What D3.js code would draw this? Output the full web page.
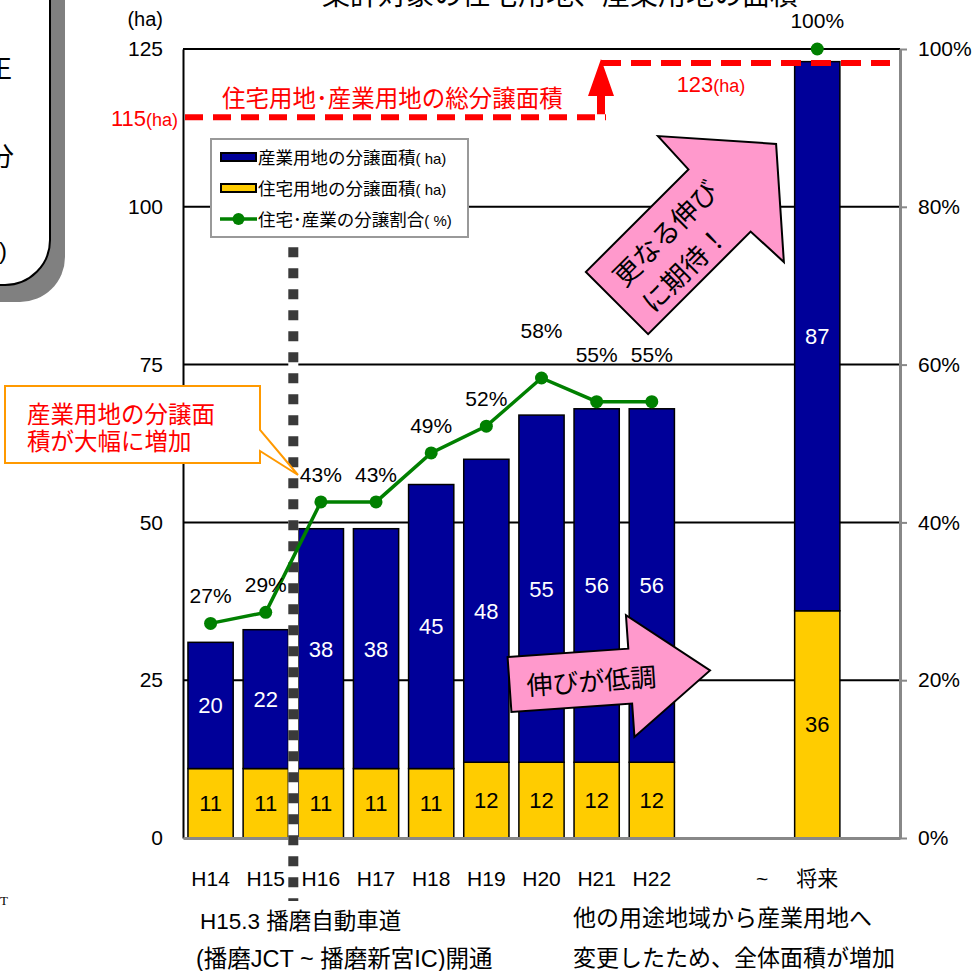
<!DOCTYPE html>
<html>
<head>
<meta charset="utf-8">
<script src="https://cdn.jsdelivr.net/npm/d3@7"></script>
<style>
  body { margin: 0; background: #fff; }
  svg { display: block; font-family: "Liberation Sans", "Noto Sans CJK JP", sans-serif; }
</style>
</head>
<body>
<div id="container"></div>
<script>
const w = 972;
const h = 971;

// x slots (the blank ones keep the gap before 将来)
const xLabels = ["H14", "H15", "H16", "H17", "H18", "H19", "H20", "H21", "H22", "", "~", "将来", ""];
const barCats = ["H14", "H15", "H16", "H17", "H18", "H19", "H20", "H21", "H22", "将来"];
const housing = [11, 11, 11, 11, 11, 12, 12, 12, 12, 36];
const industry = [20, 22, 38, 38, 45, 48, 55, 56, 56, 87];
const shareCats = ["H14", "H15", "H16", "H17", "H18", "H19", "H20", "H21", "H22"];
const share = [27.2, 28.6, 42.6, 42.6, 48.8, 52.2, 58.3, 55.3, 55.3];
const futureShare = 100;
const raisedLabels = ["H20", "H21", "H22"];
const leftTicks = [0, 25, 50, 75, 100, 125];
const rightTicks = [0, 20, 40, 60, 80, 100];
const totalLevels = [114.2, 122.8];
const totalLabels = ["115", "123"];

const plotLeft = 183, plotRight = 900, plotTop = 49, plotBottom = 838;

const svg = d3.select("#container")
  .append("svg")
  .attr("width", w)
  .attr("height", h);

const x = d3.scaleBand()
  .domain(d3.range(xLabels.length))
  .range([plotLeft, plotRight]);
const y = d3.scaleLinear().domain([0, 125]).range([plotBottom, plotTop]);
const yPct = d3.scaleLinear().domain([0, 100]).range([plotBottom, plotTop]);
const cx = (cat) => x(xLabels.indexOf(cat)) + x.bandwidth() / 2;
const barW = x.bandwidth() * 0.82;

// rounded box cut off on the left
svg.append("rect")
  .attr("x", -80).attr("y", -60).attr("width", 145).attr("height", 362)
  .attr("rx", 45).attr("fill", "#808080");
svg.append("rect")
  .attr("x", -80).attr("y", -60).attr("width", 130).attr("height", 345)
  .attr("rx", 45).attr("fill", "#fff").attr("stroke", "#000").attr("stroke-width", 2);
svg.append("text").attr("x", 12).attr("y", 78).attr("text-anchor", "end")
  .style("font-size", "26px").text("正");
svg.append("text").attr("x", 14).attr("y", 166).attr("text-anchor", "end")
  .style("font-size", "26px").text("分");
svg.append("text").attr("x", 7).attr("y", 259).attr("text-anchor", "end")
  .style("font-size", "24px").text(")");
svg.append("text").attr("x", 0).attr("y", 905)
  .style("font-family", "'Liberation Serif', serif").style("font-size", "13px").text("T");

// gridlines
svg.append("g")
  .selectAll("line")
  .data(leftTicks.filter((d) => d > 0))
  .enter()
  .append("line")
  .attr("x1", plotLeft).attr("x2", plotRight)
  .attr("y1", (d) => y(d)).attr("y2", (d) => y(d))
  .attr("stroke", "#000").attr("stroke-width", 2);

// stacked bars
const bars = svg.append("g");
bars.selectAll(".house")
  .data(barCats)
  .enter()
  .append("rect")
  .attr("x", (d) => cx(d) - barW / 2)
  .attr("y", (d, i) => y(housing[i]))
  .attr("width", barW)
  .attr("height", (d, i) => y(0) - y(housing[i]))
  .attr("fill", "#ffcc00").attr("stroke", "#000").attr("stroke-width", 1.5);
bars.selectAll(".ind")
  .data(barCats)
  .enter()
  .append("rect")
  .attr("x", (d) => cx(d) - barW / 2)
  .attr("y", (d, i) => y(housing[i] + industry[i]))
  .attr("width", barW)
  .attr("height", (d, i) => y(housing[i]) - y(housing[i] + industry[i]))
  .attr("fill", "#000099").attr("stroke", "#000").attr("stroke-width", 1.5);

bars.selectAll(".houseLabel")
  .data(barCats)
  .enter()
  .append("text")
  .attr("x", (d) => cx(d))
  .attr("y", (d, i) => y(housing[i] / 2))
  .attr("dy", "0.36em")
  .attr("text-anchor", "middle")
  .style("font-size", "22px")
  .text((d, i) => housing[i]);
bars.selectAll(".indLabel")
  .data(barCats)
  .enter()
  .append("text")
  .attr("x", (d) => cx(d))
  .attr("y", (d, i) => y(housing[i] + industry[i] / 2))
  .attr("dy", "0.36em")
  .attr("text-anchor", "middle")
  .attr("fill", "#fff")
  .style("font-size", "22px")
  .text((d, i) => industry[i]);

// axes
const yAxis = svg.append("g")
  .attr("transform", "translate(" + plotLeft + ",0)")
  .call(d3.axisLeft(y).tickValues(leftTicks).tickSize(0).tickSizeOuter(0).tickPadding(20));
yAxis.attr("font-family", null).attr("font-size", null);
yAxis.select(".domain").attr("stroke", "#000").attr("stroke-width", 2);
yAxis.selectAll("text").style("font-size", "21px").attr("fill", "#000");

const xAxis = svg.append("g")
  .attr("transform", "translate(0," + plotBottom + ")")
  .call(d3.axisBottom(x).tickFormat((i) => xLabels[i]).tickSize(0).tickSizeOuter(0).tickPadding(33));
xAxis.attr("font-family", null).attr("font-size", null);
xAxis.select(".domain").attr("stroke", "#888").attr("stroke-width", 3);
xAxis.selectAll("text").style("font-size", "21px").attr("fill", "#000");

const rAxis = svg.append("g")
  .attr("transform", "translate(" + plotRight + ",0)")
  .call(d3.axisRight(yPct).tickValues(rightTicks).tickSize(7).tickSizeOuter(0).tickPadding(11)
    .tickFormat((d) => d + "%"));
rAxis.attr("font-family", null).attr("font-size", null);
rAxis.select(".domain").attr("stroke", "#888").attr("stroke-width", 3);
rAxis.selectAll(".tick line").attr("stroke", "#888").attr("stroke-width", 2);
rAxis.selectAll("text").style("font-size", "21px").attr("fill", "#000");

svg.append("text").attr("x", 163).attr("y", 26).attr("text-anchor", "end")
  .style("font-size", "20px").text("(ha)");

// H15.3 opening marker
const markX = x(xLabels.indexOf("H16"));
svg.append("line")
  .attr("x1", markX).attr("x2", markX).attr("y1", y(93.6)).attr("y2", 901)
  .attr("stroke", "#fff").attr("stroke-width", 10);
svg.append("line")
  .attr("x1", markX).attr("x2", markX).attr("y1", y(93.6)).attr("y2", 901)
  .attr("stroke", "#3a3a3a").attr("stroke-width", 10).attr("stroke-dasharray", "10,11");

// share line
const line = d3.line()
  .x((d, i) => cx(shareCats[i]))
  .y((d) => yPct(d));
svg.append("path")
  .datum(share)
  .attr("d", line)
  .attr("fill", "none").attr("stroke", "#008000").attr("stroke-width", 3.5);
svg.append("g")
  .selectAll("circle")
  .data(share)
  .enter()
  .append("circle")
  .attr("cx", (d, i) => cx(shareCats[i]))
  .attr("cy", (d) => yPct(d))
  .attr("r", 6.5).attr("fill", "#008000");
svg.append("g")
  .selectAll("text")
  .data(share)
  .enter()
  .append("text")
  .attr("x", (d, i) => cx(shareCats[i]))
  .attr("y", (d, i) => yPct(d) - (raisedLabels.includes(shareCats[i]) ? 40 : 20))
  .attr("text-anchor", "middle")
  .style("font-size", "21px")
  .text((d) => Math.round(d) + "%");
svg.append("circle")
  .attr("cx", cx("将来")).attr("cy", yPct(futureShare))
  .attr("r", 6.5).attr("fill", "#008000");
svg.append("text")
  .attr("x", cx("将来")).attr("y", yPct(futureShare) - 21)
  .attr("text-anchor", "middle").style("font-size", "21px")
  .text(futureShare + "%");

// total area lines
const arrowX = 601;
svg.append("line")
  .attr("x1", plotLeft + 2).attr("x2", 606)
  .attr("y1", y(totalLevels[0])).attr("y2", y(totalLevels[0]))
  .attr("stroke", "#ff0000").attr("stroke-width", 6).attr("stroke-dasharray", "18,10");
svg.append("line")
  .attr("x1", arrowX).attr("x2", 890)
  .attr("y1", y(totalLevels[1])).attr("y2", y(totalLevels[1]))
  .attr("stroke", "#ff0000").attr("stroke-width", 6).attr("stroke-dasharray", "20,10");
svg.append("path")
  .attr("d", "M" + (arrowX - 4) + "," + (y(totalLevels[0]) - 3) + "V96H" + (arrowX - 13) +
    "L" + arrowX + "," + (y(totalLevels[1]) - 4) + "L" + (arrowX + 13) + ",96H" + (arrowX + 4) +
    "V" + (y(totalLevels[0]) - 3) + "Z")
  .attr("fill", "#ff0000");

const t1 = svg.append("text").attr("x", 178).attr("y", y(totalLevels[0]) + 9)
  .attr("text-anchor", "end").attr("fill", "#ff0000").style("font-size", "22px");
t1.append("tspan").text(totalLabels[0]);
t1.append("tspan").style("font-size", "18px").text("(ha)");
const t2 = svg.append("text").attr("x", 711).attr("y", 92)
  .attr("text-anchor", "middle").attr("fill", "#ff0000").style("font-size", "22px");
t2.append("tspan").text(totalLabels[1]);
t2.append("tspan").style("font-size", "18px").text("(ha)");
svg.append("text").attr("x", 222).attr("y", 107).attr("fill", "#ff0000")
  .style("font-size", "23.5px").text("住宅用地･産業用地の総分譲面積");

// legend
const legend = svg.append("g").attr("transform", "translate(211,139)");
legend.append("rect").attr("width", 257).attr("height", 98)
  .attr("fill", "#fff").attr("stroke", "#999").attr("stroke-width", 2);
const legendItems = [
  { name: "産業用地の分譲面積", unit: "( ha)", color: "#000099", type: "bar" },
  { name: "住宅用地の分譲面積", unit: "( ha)", color: "#ffcc00", type: "bar" },
  { name: "住宅･産業の分譲割合", unit: "( %)", color: "#008000", type: "line" }
];
legendItems.forEach((d, i) => {
  const ly = 18 + i * 31;
  if (d.type === "bar") {
    legend.append("rect").attr("x", 10).attr("y", ly - 4).attr("width", 35).attr("height", 8)
      .attr("fill", d.color).attr("stroke", "#000").attr("stroke-width", 2);
  } else {
    legend.append("line").attr("x1", 9).attr("x2", 46).attr("y1", ly).attr("y2", ly)
      .attr("stroke", d.color).attr("stroke-width", 3.5);
    legend.append("circle").attr("cx", 27.5).attr("cy", ly).attr("r", 6).attr("fill", d.color);
  }
  const lt = legend.append("text").attr("x", 47).attr("y", ly + 7).style("font-size", "17.5px");
  lt.append("tspan").text(d.name);
  lt.append("tspan").style("font-size", "15px").text(d.unit);
});

// callout
svg.append("path")
  .attr("d", "M5,386H260V430L298,475L260,451V463H5Z")
  .attr("fill", "#fff").attr("stroke", "#ff9900").attr("stroke-width", 2);
svg.append("text").attr("x", 27).attr("y", 423).attr("fill", "#ff0000")
  .style("font-size", "23.5px").text("産業用地の分譲面");
svg.append("text").attr("x", 27).attr("y", 450).attr("fill", "#ff0000")
  .style("font-size", "23.5px").text("積が大幅に増加");

// pink arrows
const arrowUp = svg.append("g").attr("transform", "translate(617,303) rotate(-45)");
arrowUp.append("path")
  .attr("d", "M0,-44H145L147,-89L225,0L147,89L145,44H0Z")
  .attr("fill", "#ff99cc").attr("stroke", "#000").attr("stroke-width", 2);
arrowUp.append("text").attr("x", 16).attr("y", -5).style("font-size", "27px").text("更なる伸び");
arrowUp.append("text").attr("x", 18).attr("y", 34).style("font-size", "27px").text("に期待！");

const arrowFlat = svg.append("g").attr("transform", "translate(509.5,684.5) rotate(-4)");
arrowFlat.append("path")
  .attr("d", "M0,-27.5H121V-61L201,0L121,61V27.5H0Z")
  .attr("fill", "#ff99cc").attr("stroke", "#000").attr("stroke-width", 2);
arrowFlat.append("text").attr("x", 82).attr("y", 12).attr("text-anchor", "middle")
  .style("font-size", "26px").text("伸びが低調");

// notes under the axis
svg.append("text").attr("x", 200).attr("y", 929).style("font-size", "22.5px").text("H15.3 播磨自動車道");
svg.append("text").attr("x", 196).attr("y", 967).style("font-size", "23.5px").text("(播磨JCT ~ 播磨新宮IC)開通");
svg.append("text").attr("x", 573).attr("y", 926).style("font-size", "23px").text("他の用途地域から産業用地へ");
svg.append("text").attr("x", 573).attr("y", 966).style("font-size", "23px").text("変更したため、全体面積が増加");

// title, cut off at the top edge
svg.append("text").attr("x", 560).attr("y", 5).attr("text-anchor", "middle")
  .style("font-size", "28px").text("集計対象の住宅用地、産業用地の面積");
</script>
</body>
</html>
